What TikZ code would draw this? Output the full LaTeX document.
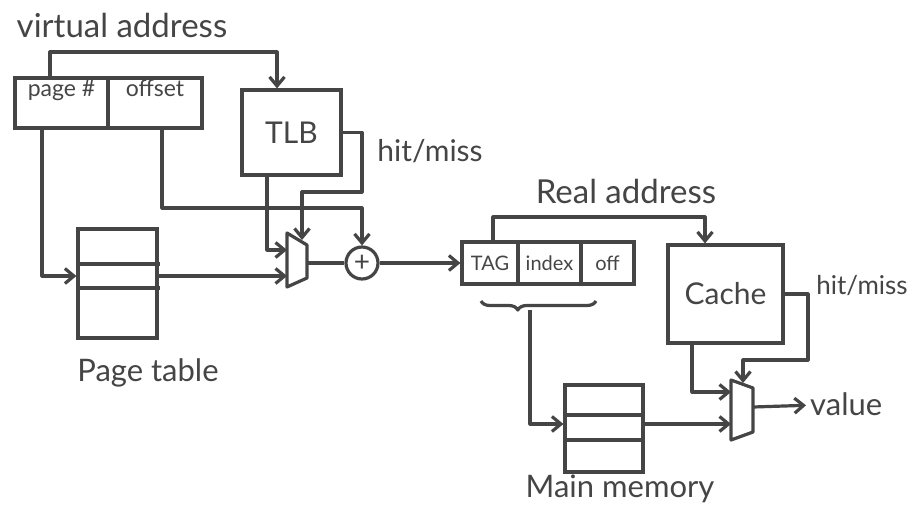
\documentclass[tikz,border=0pt]{standalone}
\usepackage{fontspec}
\setmainfont{Lato}
\usetikzlibrary{arrows.meta,decorations.pathreplacing,calc}
\definecolor{ink}{HTML}{454545}
\begin{document}
\begin{tikzpicture}[x=1pt,y=-1pt,
  wire/.style={draw=ink, line width=3.2pt, line join=round},
  arr/.style={wire, -{Straight Barb[length=9pt,width=15pt]}},
  box/.style={draw=ink, line width=3.2pt, inner sep=0pt, text=ink},
  lbl/.style={text=ink, inner sep=1pt, font=\fontsize{33}{33}\selectfont},
  big/.style={font=\fontsize{30}{30}\selectfont},
  small/.style={text=ink, inner sep=3pt, font=\fontsize{23}{23}\selectfont},
  tiny/.style={text=ink, inner sep=2pt, font=\fontsize{20}{20}\selectfont},
]
\useasboundingbox (0,0) rectangle (912,511);

% labels
\node[lbl] (vlab) at (122,25) {virtual address};
\node[lbl, font=\fontsize{30}{30}\selectfont] (hm1) at (430,151) {hit/miss};
\node[lbl] (rlab) at (626,191) {Real address};
\node[lbl, font=\fontsize{26}{26}\selectfont] (hm2) at (862,286) {hit/miss};
\node[lbl, font=\fontsize{31}{31}\selectfont] (ptlab) at (148,373) {Page table};
\node[lbl, font=\fontsize{31}{31}\selectfont] (mmlab) at (620,489) {Main memory};

% virtual address
\node[box, minimum width=93pt, minimum height=50pt,
  label={[small, anchor=north]north:page \#}] (pg) at (61.5,103) {};
\node[box, minimum width=94pt, minimum height=50pt,
  label={[small, anchor=north]north:offset}] (off) at (155,103) {};

% TLB
\node[box, big, minimum width=99pt, minimum height=85pt] (tlb) at (291.5,132.5) {TLB};

% page table
\node[box, minimum width=79pt, minimum height=109pt] (pt) at (117.5,283.5) {};
\draw[wire] ([yshift=19.5pt]pt.west) -- ++(84,0);
\draw[wire] ([yshift=-4.5pt]pt.west) -- ++(84,0);

% mux 1
\draw[wire] (287,233) -- (307,245) -- (307,278) -- (287,287) -- cycle;
\coordinate (m1a) at (287,250);
\coordinate (m1b) at (287,276);
\coordinate (m1sel) at (302,240);
\coordinate (m1o) at (307,263);

% adder
\node[circle, draw=ink, line width=3.2pt, minimum size=32pt, inner sep=0pt, text=ink,
  font=\fontsize{28}{28}\selectfont] (plus) at (362,263) {+};

% real address
\node[box, tiny, minimum width=56pt, minimum height=42pt] (tag) at (490,263) {TAG};
\node[box, tiny, minimum width=63pt, minimum height=42pt] (idx) at (549.5,263) {index};
\node[box, tiny, minimum width=53pt, minimum height=42pt] (ofs) at (607.5,263) {off};

% cache
\node[box, big, minimum width=115pt, minimum height=98pt] (cache) at (725.5,294) {Cache};

% main memory
\node[box, minimum width=78pt, minimum height=87pt] (mm) at (604,428.5) {};
\draw[wire] ([yshift=13.5pt]mm.west) -- ++(78,0);
\draw[wire] ([yshift=-11.5pt]mm.west) -- ++(78,0);

% mux 2
\draw[wire] (731,380) -- (753,388) -- (753,432) -- (731,440) -- cycle;
\coordinate (m2a) at (731,392);
\coordinate (m2b) at (731,424);
\coordinate (m2sel) at (743,383);
\coordinate (m2o) at (753,407);

\node[lbl, anchor=west, inner sep=4pt, font=\fontsize{31}{31}\selectfont] (val) at (806,404) {value};

% connectors
\coordinate (vaT) at (277,52);
\draw[arr] ([xshift=-11.5pt]pg.north) |- (vaT) -- (vaT |- tlb.north);
\draw[arr] (tlb.east) -| (362,192) -| (m1sel);
\draw[arr] ([xshift=-24.5pt]tlb.south) |- (m1a);
\coordinate (offc) at (362,208);
\draw[arr] ([xshift=7pt]off.south) |- (offc) -- (plus);
\draw[arr] ([xshift=-19.5pt]pg.south) |- ([yshift=7.5pt]pt.west);
\draw[arr] ([yshift=7.5pt]pt.east) -- (m1b);
\draw[wire] (m1o) -- (plus);
\draw[arr] (plus) -- (tag);

\coordinate (raT) at (705,217);
\draw[arr] ([xshift=3pt]tag.north) |- (raT) -- (raT |- cache.north);
\coordinate (chm) at (808,360);
\draw[arr] (cache.east) -| (chm) -| (m2sel);
\draw[arr] ([xshift=-33.5pt]cache.south) |- (m2a);

\coordinate (brA) at (481,301);
\coordinate (brB) at (596,301);
\draw[wire, decorate, decoration={brace, mirror, amplitude=9pt, aspect=0.32}] (brA) -- (brB);
\coordinate (bt) at (530,310);
\draw[arr] (bt) |- ([yshift=4.5pt]mm.west);
\draw[arr] ([yshift=4.5pt]mm.east) -- (m2b);
\draw[arr] (m2o) -- (val);
\end{tikzpicture}
\end{document}
